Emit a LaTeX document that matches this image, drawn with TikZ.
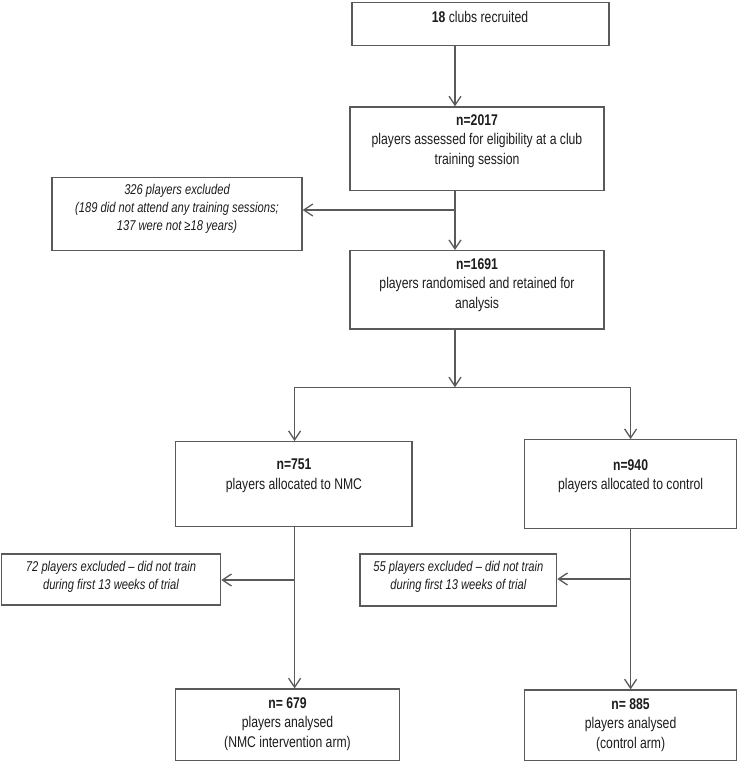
\documentclass[tikz,border=0pt]{standalone}
\usepackage{fontspec}
\setmainfont{Liberation Sans}[FakeStretch=0.786]
\usetikzlibrary{arrows.meta}
\definecolor{ln}{HTML}{5A5A5A}
\definecolor{tx}{HTML}{1C1C1C}
\begin{document}
\begin{tikzpicture}[x=1pt,y=-1pt,
  box/.style={draw=ln, line width=1.3pt, inner sep=0pt, rectangle},
  main/.style={text=tx, align=center, inner sep=0pt, font=\fontsize{15.5}{19.5}\selectfont},
  note/.style={text=tx, align=center, inner sep=0pt, font=\fontsize{14.2}{18}\selectfont\itshape},
  conn/.style={draw=ln, line width=1.3pt},
  arr/.style={conn, -{Straight Barb[length=9pt,width=12pt]}}
]
\useasboundingbox (0,0) rectangle (738,762);

% boxes
\node[box, minimum width=257pt, minimum height=42.8pt] (b1) at (480.5,23.8) {};
\node[box, minimum width=254pt, minimum height=83.5pt] (b2) at (477,148.75) {};
\node[box, minimum width=250pt, minimum height=73.3pt] (ex1) at (177,214) {};
\node[box, minimum width=254pt, minimum height=78.3pt] (b3) at (477,289.85) {};
\node[box, minimum width=236.5pt, minimum height=84.5pt] (b751) at (293.75,483.95) {};
\node[box, minimum width=211.8pt, minimum height=89pt] (b940) at (630.6,484.2) {};
\node[box, minimum width=219.3pt, minimum height=51pt] (ex72) at (111,579.5) {};
\node[box, minimum width=196.7pt, minimum height=52pt] (ex55) at (458.35,580) {};
\node[box, minimum width=224pt, minimum height=71.5pt] (b679) at (287.5,724.75) {};
\node[box, minimum width=211.8pt, minimum height=70.5pt] (b885) at (630.6,725.25) {};

% texts
\node[main] (t1) at (480,17) {\textbf{18} clubs recruited};
\node[main] (t2) at (477,141) {\textbf{n=2017}\\players assessed for eligibility at a club\\training session};
\node[note] (tx1) at (177,209) {326 players excluded\\(189 did not attend any training sessions;\\137 were not ≥18 years)};
\node[main] (t3) at (477,285) {\textbf{n=1691}\\players randomised and retained for\\analysis};
\node[main] (t751) at (294,476) {\textbf{n=751}\\players allocated to NMC};
\node[main] (t940) at (630.6,476) {\textbf{n=940}\\players allocated to control};
\node[note] (tx72) at (111,577) {72 players excluded – did not train\\during first 13 weeks of trial};
\node[note] (tx55) at (458.4,577) {55 players excluded – did not train\\during first 13 weeks of trial};
\node[main] (t679) at (287.5,724) {\textbf{n= 679}\\players analysed\\(NMC intervention arm)};
\node[main] (t885) at (630.6,725) {\textbf{n= 885}\\players analysed\\(control arm)};

% connectors
\coordinate (s1) at (455,0);
\coordinate (j1) at (455,210);
\coordinate (split) at (455,387.3);
\coordinate (sl) at (294.6,387.3);
\coordinate (sr) at (630.6,387.3);
\coordinate (j2) at (294.6,580);
\coordinate (j3) at (630.6,579);

\draw[arr] (b1.south -| s1) -- (b2.north -| s1);
\draw[arr] (b2.south -| s1) -- (b3.north -| s1);
\draw[arr] (j1) -- (ex1.east |- j1);
\draw[arr] (b3.south -| s1) -- (split);
\draw[conn] (sl) -- (sr);
\draw[arr] (sl) -- (b751.north -| sl);
\draw[arr] (sr) -- (b940.north -| sr);
\draw[arr] (b751.south -| sl) -- (b679.north -| sl);
\draw[arr] (j2) -- (ex72.east |- j2);
\draw[arr] (b940.south -| sr) -- (b885.north -| sr);
\draw[arr] (j3) -- (ex55.east |- j3);
\end{tikzpicture}
\end{document}
